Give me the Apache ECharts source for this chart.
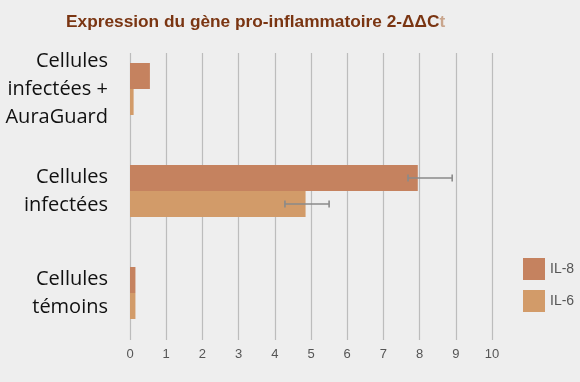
<!DOCTYPE html>
<html><head><meta charset="utf-8">
<script src="https://cdn.jsdelivr.net/npm/echarts@6/dist/echarts.min.js"></script>
<style>html,body{margin:0;padding:0;background:#eeeeee;}#c{width:580px;height:382px;}</style>
</head><body><div id="c"></div>
<script>
var categories = ['Cellules\ninfectées +\nAuraGuard', 'Cellules\ninfectées', 'Cellules\ntémoins'];
var seriesNames = ['IL-8', 'IL-6'];
var il8 = [0.55, 7.95, 0.15];
var il6 = [0.1, 4.85, 0.15];
var il8ErrLow = [null, 7.68, null];
var il8ErrHigh = [null, 8.9, null];
var il6ErrLow = [null, 4.28, null];
var il6ErrHigh = [null, 5.5, null];
var xTicks = [0, 1, 2, 3, 4, 5, 6, 7, 8, 9, 10];

var colors = ['#c5825f', '#d29b69'];

function errData(lo, hi) {
  var out = [];
  for (var i = 0; i < categories.length; i++) {
    if (lo[i] != null) out.push([i, lo[i], hi[i]]);
  }
  return out;
}
function errRender(offset) {
  return function (params, api) {
    var ci = api.value(0);
    var p1 = api.coord([api.value(1), ci]);
    var p2 = api.coord([api.value(2), ci]);
    var y = p1[1] + offset;
    var cap = 3.5;
    var st = { stroke: '#8a8a8a', lineWidth: 1.6 };
    return { type: 'group', children: [
      { type: 'line', shape: { x1: p1[0], y1: y, x2: p2[0], y2: y }, style: st },
      { type: 'line', shape: { x1: p1[0], y1: y - cap, x2: p1[0], y2: y + cap }, style: st },
      { type: 'line', shape: { x1: p2[0], y1: y - cap, x2: p2[0], y2: y + cap }, style: st }
    ]};
  };
}

var chart = echarts.init(document.getElementById('c'), null, { renderer: 'canvas' });
chart.setOption({
  backgroundColor: '#eeeeee',
  animation: false,
  title: {
    text: '{a|Expression du gène pro-inflammatoire 2-ΔΔC}{b|t}',
    left: 61, top: 9,
    textStyle: {
      rich: {
        a: { fontFamily: 'Liberation Sans', fontWeight: 'bold', fontSize: 17.3, color: '#7a3512' },
        b: { fontFamily: 'Liberation Sans', fontWeight: 'bold', fontSize: 17.3, color: '#c9a58c' }
      }
    }
  },
  legend: {
    data: seriesNames,
    orient: 'vertical',
    left: 523, top: 258, padding: 0,
    itemWidth: 22, itemHeight: 22, itemGap: 10,
    icon: 'rect',
    textStyle: { fontFamily: 'Liberation Sans', fontSize: 14, color: '#555' }
  },
  grid: [
    { left: 130, right: 88, top: 53, bottom: 42 },
    { left: 130, right: 88, top: 38, bottom: 38 }
  ],
  xAxis: [
    { type: 'value', gridIndex: 0, min: 0, max: 10, interval: 1,
      axisLine: { show: false }, axisTick: { show: false },
      splitLine: { show: true, lineStyle: { color: '#bcbcbc', width: 1.2 } },
      axisLabel: { margin: 8, fontFamily: 'Liberation Sans', fontSize: 13, color: '#555',
        formatter: function (v) { return xTicks.indexOf(v) >= 0 ? String(v) : ''; } } },
    { type: 'value', gridIndex: 1, min: 0, max: 10, show: false }
  ],
  yAxis: [
    { type: 'category', gridIndex: 0, show: false, data: categories },
    { type: 'category', gridIndex: 1, data: categories, inverse: true,
      axisLine: { show: false }, axisTick: { show: false }, splitLine: { show: false },
      axisLabel: { margin: 22, fontFamily: 'Open Sans', fontSize: 20, lineHeight: 28, color: '#111', align: 'right' } }
  ],
  series: [
    { name: 'IL-8', type: 'bar', xAxisIndex: 1, yAxisIndex: 1, data: il8, barWidth: 26, barGap: '0%',
      itemStyle: { color: colors[0] } },
    { name: 'IL-6', type: 'bar', xAxisIndex: 1, yAxisIndex: 1, data: il6, barWidth: 26, barGap: '0%',
      itemStyle: { color: colors[1] } },
    { type: 'custom', xAxisIndex: 1, yAxisIndex: 1, renderItem: errRender(-13),
      encode: { x: [1, 2], y: 0 }, data: errData(il8ErrLow, il8ErrHigh), z: 5 },
    { type: 'custom', xAxisIndex: 1, yAxisIndex: 1, renderItem: errRender(13),
      encode: { x: [1, 2], y: 0 }, data: errData(il6ErrLow, il6ErrHigh), z: 5 }
  ]
});
</script></body></html>
